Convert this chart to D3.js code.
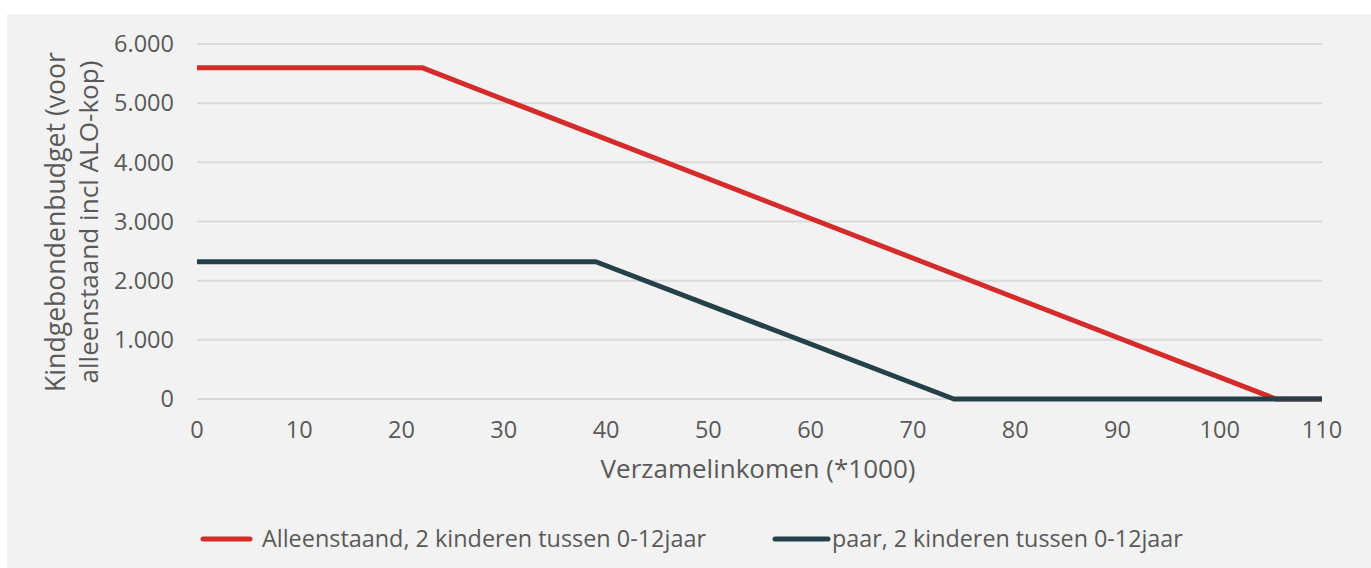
<!DOCTYPE html>
<html><head><meta charset="utf-8">
<script src="https://cdn.jsdelivr.net/npm/d3@7"></script>
<style>body{margin:0;background:#fff;}svg{display:block;font-family:"Open Sans",sans-serif;}</style>
</head><body><svg id="c" width="1371" height="568"></svg>
<script>
const seriesNames = ["Alleenstaand, 2 kinderen tussen 0-12jaar", "paar, 2 kinderen tussen 0-12jaar"];
const seriesColors = ["#d42b2b", "#24414a"];
const alleenstaandX = [0, 22, 105.5, 110];
const alleenstaandY = [5600, 5600, 0, 0];
const paarX = [0, 39, 74, 110];
const paarY = [2320, 2320, 0, 0];
const xTicks = [0,10,20,30,40,50,60,70,80,90,100,110];
const yTicks = [0,1000,2000,3000,4000,5000,6000];
const yTickLabels = ["0","1.000","2.000","3.000","4.000","5.000","6.000"];
const xTitle = "Verzamelinkomen (*1000)";
const yTitle = ["Kindgebondenbudget (voor", "alleenstaand incl ALO-kop)"];

const svg = d3.select("#c");
svg.append("rect").attr("x",7).attr("y",14).attr("width",1364).attr("height",554).attr("fill","#f2f2f2");
const x = d3.scaleLinear().domain([0,110]).range([197,1322]);
const y = d3.scaleLinear().domain([0,6000]).range([399,44]);
const txt = "#595959";

// scale a text element's font-size so its width matches a target
function fit(sel, target){
  const n = sel.node(); const fs = parseFloat(sel.attr("font-size"));
  const w = n.getComputedTextLength();
  sel.attr("font-size", (fs*target/w).toFixed(2));
  return sel;
}

const g = svg.append("g");
g.selectAll("line.grid").data(yTicks).join("line")
  .attr("x1",x(0)).attr("x2",x(110)).attr("y1",d=>y(d)).attr("y2",d=>y(d))
  .attr("stroke","#d9d9d9").attr("stroke-width",2);

// measure tick font size
const probe = g.append("text").attr("font-size",20).text("6.000");
fit(probe, 60); const tickFs = probe.attr("font-size"); probe.remove();

g.selectAll("text.yt").data(yTicks).join("text")
  .attr("x",174).attr("y",d=>y(d)).attr("dy","0.35em").attr("text-anchor","end")
  .attr("font-size",tickFs).attr("fill",txt).text((d,i)=>yTickLabels[i]);
g.selectAll("text.xt").data(xTicks).join("text")
  .attr("x",d=>x(d)).attr("y",438).attr("text-anchor","middle")
  .attr("font-size",tickFs).attr("fill",txt).text(d=>d);

fit(g.append("text").attr("x",758).attr("y",478).attr("text-anchor","middle")
  .attr("font-size",22).attr("fill",txt).text(xTitle), 315);

const ytFs = [340, 323];
const ytX = [65, 98];
yTitle.forEach((t,i)=>{
  fit(g.append("text").attr("transform",`translate(${ytX[i]},222) rotate(-90)`)
    .attr("text-anchor","middle").attr("font-size",22).attr("fill",txt).text(t), ytFs[i]);
});

const line = d3.line().x(d=>x(d[0])).y(d=>y(d[1]));
const data = [d3.zip(alleenstaandX, alleenstaandY), d3.zip(paarX, paarY)];
g.selectAll("path.s").data(data).join("path")
  .attr("d",line).attr("fill","none").attr("stroke",(d,i)=>seriesColors[i])
  .attr("stroke-width",5).attr("stroke-linejoin","round");

const leg = [{x1:203,x2:250,tx:262,w:444},{x1:775,x2:828,tx:832,w:351}];
leg.forEach((l,i)=>{
  g.append("line").attr("x1",l.x1).attr("x2",l.x2).attr("y1",539).attr("y2",539)
    .attr("stroke",seriesColors[i]).attr("stroke-width",5).attr("stroke-linecap","round");
  fit(g.append("text").attr("x",l.tx).attr("y",539).attr("dy","0.35em").attr("font-size",21)
    .attr("fill",txt).text(seriesNames[i]), l.w);
});
</script></body></html>
